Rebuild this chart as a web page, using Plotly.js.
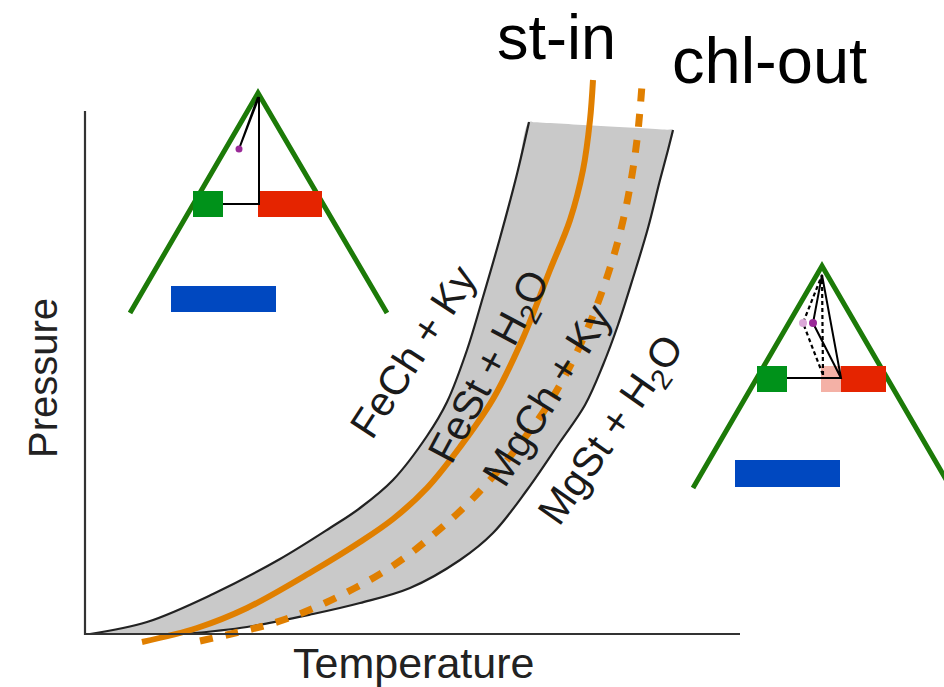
<!DOCTYPE html>
<html>
<head>
<meta charset="utf-8">
<script src="https://cdn.plot.ly/plotly-3.0.1.min.js"></script>
<style>html,body{margin:0;padding:0;background:#fff;}#chart{width:944px;height:687px;}</style>
</head>
<body>
<div id="chart"></div>
<script>
// ---- schematic data (temperature / pressure in drawing units, y grows downward) ----
// lower-T boundary of the divariant band (FeCh + Ky = FeSt + H2O)
const bandLeftT = [90,147,213,280,330,360,393,427,447,467,483,500,517,529];
const bandLeftP = [634,622,594,559,528,508,480,436,402,350,297,238,174,122];
// top edge of the shaded band
const bandTopT = [535,601,667];
const bandTopP = [122.3,126,129.7];
// higher-T boundary (MgCh + Ky = MgSt + H2O)
const bandRightT = [185,247,313,360,410,460,493,527,560,585,603,618,633,648,660,668,673];
const bandRightP = [634,627,614,603,588,560,533,490,442,405,365,325,278,228,180,150,130];
// st-in curve (solid orange)
const stInT = [142,197,247,313,360,393,427,460,493,523,550,570,583,590,593];
const stInP = [642,628,608,571,542,519,488,447,399,338,270,220,170,120,80];
// chl-out curve (dashed orange)
const chlOutT = [200,235,267,297,325,355,380,407,433,457,480,503,523,542,560,577,592,605,616,625,632,637,640,642];
const chlOutP = [641,633,625,615,603,588,574,556,535,514,491,465,440,414,385,352,318,283,248,212,175,140,110,85];

// axes frame
const axisT = [85,85,740];
const axisP = [111,634,634];

// left triangle : two sides
const tri1T = [130,258,387];
const tri1P = [313,93,313];
const tri1Green = [193,191,223,217];  // x0,y0,x1,y1
const tri1Red   = [258,191,322,217];
const tri1Blue  = [171,286,276,312];
const tri1TieT = [223,259,259,239,258];
const tri1TieP = [204,204,97,149,97];
const tri1DotT = [239];
const tri1DotP = [149];

// right triangle
const tri2T = [693,822,951];
const tri2P = [488,266,488];
const tri2Green = [757,366,787,392];
const tri2Pink  = [821,366,841,392];
const tri2Red   = [841,366,886,392];
const tri2Blue  = [735,460,840,487];
const tri2SolidT = [787,841,822,813,841];
const tri2SolidP = [378,378,275,323,378];
const tri2DashT = [823,822,803,823];
const tri2DashP = [375,275,323,375];
const tri2DotT = [813];
const tri2DotP = [323];
const tri2DotLightT = [803];
const tri2DotLightP = [323];

// labels
const fieldLabels = ['FeCh + Ky','FeSt + H<sub>2</sub>O','MgCh + Ky','MgSt + H<sub>2</sub>O'];
const fieldLabelT = [413,491,547,613];
const fieldLabelP = [352,368,395,431];
const fieldLabelAngle = [-57,-62,-58,-55];

const ORANGE = '#e07f00';
const GREEN = '#1c7a08';
const traces = [];

function line(x, y, color, width, dash) {
  return {x:x, y:y, type:'scatter', mode:'lines', hoverinfo:'skip',
          line:{color:color, width:width, dash:dash||'solid', shape:'spline', smoothing:1}};
}
function straight(x, y, color, width, dash) {
  return {x:x, y:y, type:'scatter', mode:'lines', hoverinfo:'skip',
          line:{color:color, width:width, dash:dash||'solid'}};
}
function rect(r, color) {
  return {x:[r[0],r[2],r[2],r[0],r[0]], y:[r[1],r[1],r[3],r[3],r[1]], type:'scatter', mode:'lines',
          fill:'toself', fillcolor:color, line:{width:0, color:color}, hoverinfo:'skip'};
}

// band fill
const fillT = bandLeftT.concat(bandTopT, bandRightT.slice().reverse());
const fillP = bandLeftP.concat(bandTopP, bandRightP.slice().reverse());
traces.push({x:fillT, y:fillP, type:'scatter', mode:'lines', fill:'toself', fillcolor:'#c9c9c9',
             line:{width:0, color:'#c9c9c9', shape:'spline', smoothing:1}, hoverinfo:'skip'});
traces.push(line(bandLeftT, bandLeftP, '#222', 2.2));
traces.push(line(bandRightT, bandRightP, '#222', 2.2));
traces.push(line(stInT, stInP, ORANGE, 6));
traces.push(line(chlOutT, chlOutP, ORANGE, 7, '13px,13px'));
traces.push(straight(axisT, axisP, '#333', 2.2));

// triangle 1
traces.push(straight(tri1T, tri1P, GREEN, 5));
traces.push(rect(tri1Green, '#00921a'));
traces.push(rect(tri1Red, '#e52400'));
traces.push(rect(tri1Blue, '#0048c0'));
traces.push(straight(tri1TieT, tri1TieP, '#000', 2));
traces.push({x:tri1DotT, y:tri1DotP, type:'scatter', mode:'markers', hoverinfo:'skip',
             marker:{size:7, color:'#9a2a98'}});

// triangle 2
traces.push(straight(tri2T, tri2P, GREEN, 5));
traces.push(rect(tri2Green, '#00921a'));
traces.push(rect(tri2Pink, '#f4b1a6'));
traces.push(rect(tri2Red, '#e52400'));
traces.push(rect(tri2Blue, '#0048c0'));
traces.push(straight(tri2SolidT, tri2SolidP, '#000', 2));
traces.push(straight(tri2DashT, tri2DashP, '#000', 2.2, '4px,3px'));
traces.push({x:tri2DotLightT, y:tri2DotLightP, type:'scatter', mode:'markers', hoverinfo:'skip',
             marker:{size:8, color:'#dba8d8'}});
traces.push({x:tri2DotT, y:tri2DotP, type:'scatter', mode:'markers', hoverinfo:'skip',
             marker:{size:8, color:'#9a2a98'}});

const FONT = 'Liberation Sans, Arial, Helvetica, sans-serif';
const annotations = [];
for (let i = 0; i < fieldLabels.length; i++) {
  annotations.push({x:fieldLabelT[i], y:fieldLabelP[i], xref:'x', yref:'y', text:fieldLabels[i],
    showarrow:false, textangle:fieldLabelAngle[i], font:{family:FONT, size:41, color:'#1a1a1a'}});
}
annotations.push({x:556, y:37, xref:'x', yref:'y', text:'st-in', showarrow:false,
  font:{family:FONT, size:63, color:'#000'}});
annotations.push({x:769, y:60, xref:'x', yref:'y', text:'chl-out', showarrow:false,
  font:{family:FONT, size:65, color:'#000'}});
annotations.push({x:413, y:663, xref:'x', yref:'y', text:'Temperature', showarrow:false,
  font:{family:FONT, size:43, color:'#222'}});
annotations.push({x:43, y:378, xref:'x', yref:'y', text:'Pressure', showarrow:false, textangle:-90,
  font:{family:FONT, size:40, color:'#222'}});

const layout = {
  width:944, height:687,
  margin:{l:0, r:0, t:0, b:0, pad:0},
  paper_bgcolor:'#fff', plot_bgcolor:'#fff',
  showlegend:false,
  xaxis:{range:[0,944], visible:false, fixedrange:true},
  yaxis:{range:[687,0], visible:false, fixedrange:true},
  annotations:annotations
};
Plotly.newPlot('chart', traces, layout, {staticPlot:true, displayModeBar:false});
</script>
</body>
</html>
